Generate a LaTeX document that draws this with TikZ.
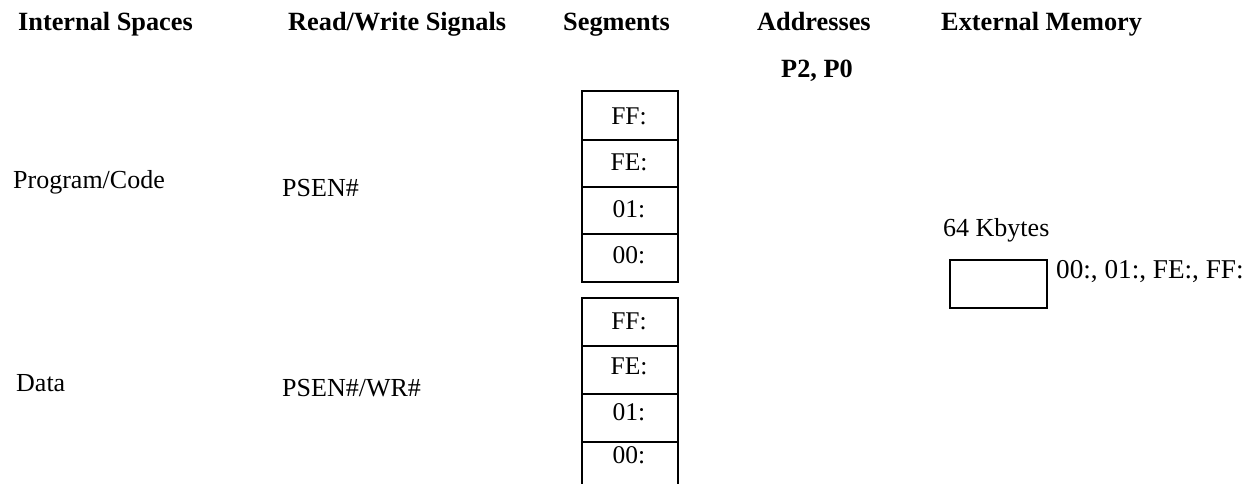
\documentclass[tikz,border=0pt]{standalone}
\usepackage{fontspec}
\setmainfont{Liberation Serif}
\begin{document}
\begin{tikzpicture}[x=1pt,y=-1pt,
  font=\fontsize{26}{30}\selectfont,
  hdr/.style={anchor=base west, inner sep=0pt, font=\fontsize{26.3}{30}\selectfont\bfseries},
  lbl/.style={anchor=base west, inner sep=0pt, font=\fontsize{26}{30}\selectfont},
  cellbox/.style={draw, line width=2pt, minimum width=96pt, inner sep=0pt, anchor=north west},
  celltxt/.style={anchor=base, inner sep=0pt, font=\fontsize{25.5}{30}\selectfont}]
\useasboundingbox (0,0) rectangle (1253,484);
\clip (0,0) rectangle (1253,484);
% headers
\node[hdr] (h1) at (18,31) {Internal Spaces};
\node[hdr] (h2) at (288,31) {Read/Write Signals};
\node[hdr] (h3) at (563,31) {Segments};
\node[hdr] (h4) at (757,31) {Addresses};
\node[hdr] (h5) at (941,31) {External Memory};
\node[hdr] (p2) at (781,78) {P2, P0};
% labels
\node[lbl] (prog) at (13,189) {Program/Code};
\node[lbl] (psen) at (282,196) {PSEN\#};
\node[lbl] (data) at (16,391) {Data};
\node[lbl] (psenwr) at (282,396) {PSEN\#/WR\#};
\node[lbl] (kb) at (943,236) {64 Kbytes};
% segment stack 1
\node[cellbox, minimum height=49pt] (a1) at (581,90) {};
\node[cellbox, minimum height=47pt] (a2) at (581,139) {};
\node[cellbox, minimum height=47pt] (a3) at (581,186) {};
\node[cellbox, minimum height=48pt] (a4) at (581,233) {};
\node[celltxt] (ta1) at (629,125) {FF:};
\node[celltxt] (ta2) at (629,171) {FE:};
\node[celltxt] (ta3) at (629,217) {01:};
\node[celltxt] (ta4) at (629,263) {00:};
% segment stack 2
\node[cellbox, minimum height=48pt] (b1) at (581,297) {};
\node[cellbox, minimum height=48pt] (b2) at (581,345) {};
\node[cellbox, minimum height=48pt] (b3) at (581,393) {};
\node[cellbox, minimum height=60pt] (b4) at (581,441) {};
\node[celltxt] (tb1) at (629,329) {FF:};
\node[celltxt] (tb2) at (629,374) {FE:};
\node[celltxt] (tb3) at (629,420) {01:};
\node[celltxt] (tb4) at (629,463) {00:};
% external memory
\node[cellbox, minimum height=48pt, minimum width=97pt] (ext) at (949,259) {};
\node[lbl, font=\fontsize{27.2}{30}\selectfont] (extt) at (1056,278) {00:, 01:, FE:, FF:};
\end{tikzpicture}
\end{document}
